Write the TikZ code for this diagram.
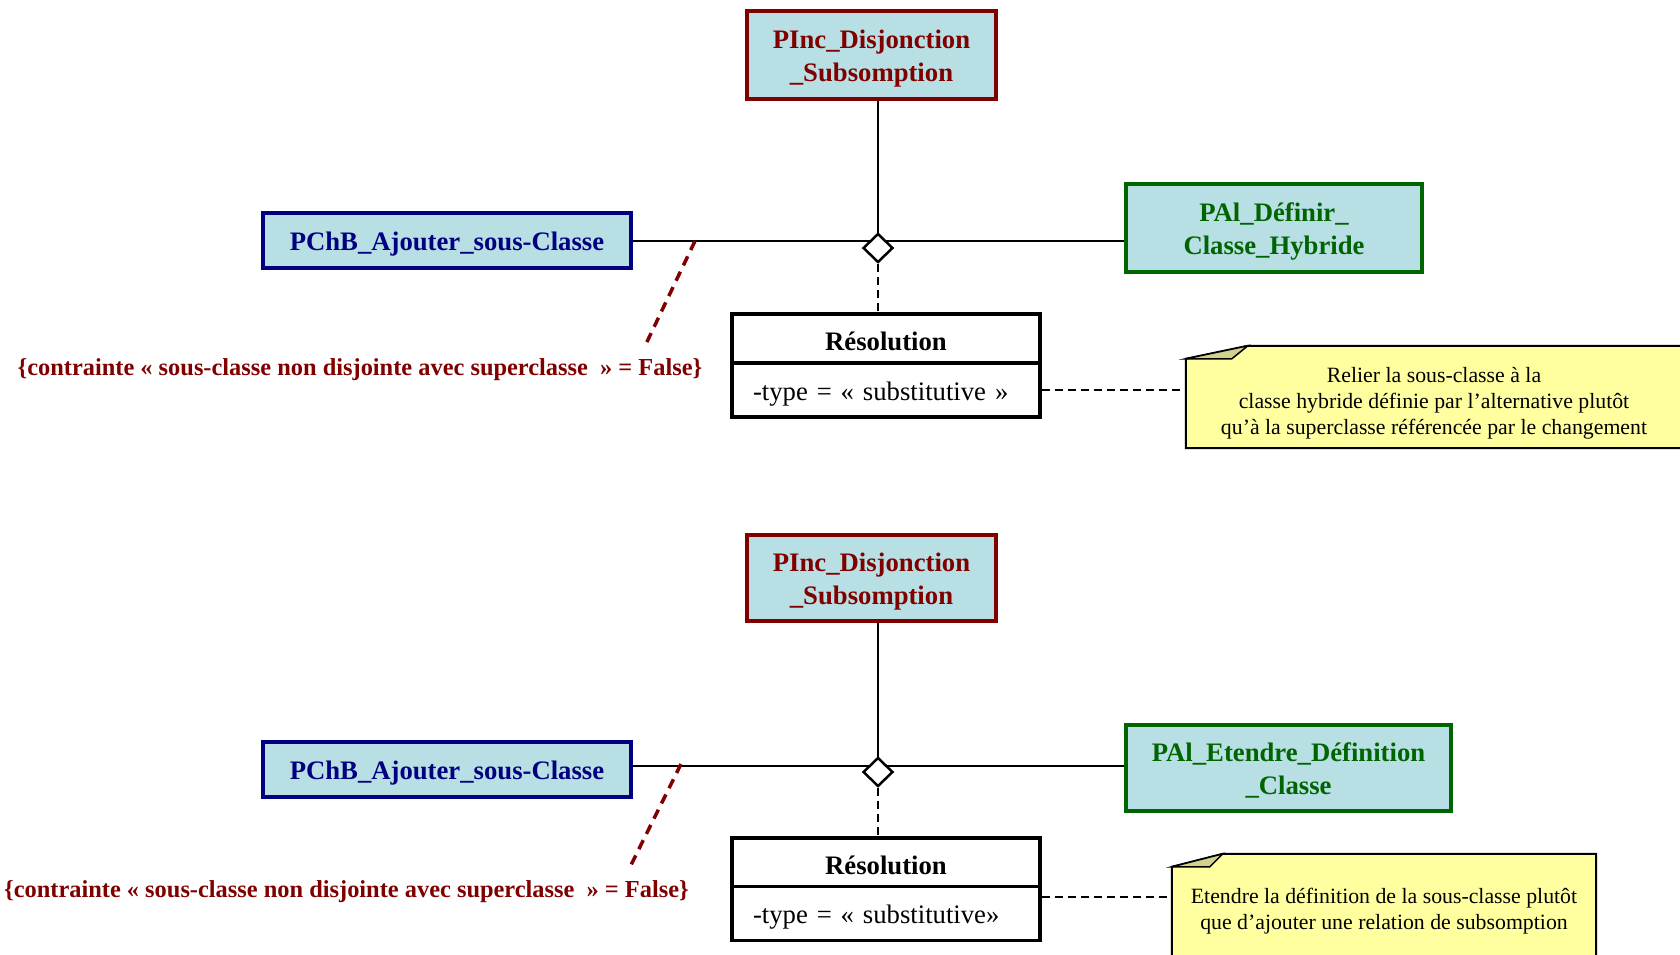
\documentclass[tikz,border=0pt]{standalone}
\usepackage{fontspec}
\setmainfont{Liberation Serif}
\usetikzlibrary{calc, positioning, shapes.geometric, backgrounds}
\definecolor{cRouge}{HTML}{800000}
\definecolor{cBleu}{HTML}{000080}
\definecolor{cVert}{HTML}{006400}
\definecolor{cCyanPale}{HTML}{B8E0E4}
\definecolor{cNote}{HTML}{FFFFA0}
\definecolor{cPli}{HTML}{D2D28C}

\begin{document}
\begin{tikzpicture}[
    x=1pt, y=-1pt,
    % ---------------------------------------------------------
    % STYLES DE BASE
    % ---------------------------------------------------------
    classe/.style={
        rectangle,
        draw=#1,
        fill=cCyanPale,
        text=#1,
        line width=3.5pt,
        font=\bfseries\fontsize{26.7}{33}\selectfont,
        align=center,
        inner sep=0pt,
        execute at begin node={\rule{0pt}{25pt}}
    },
    deux lignes/.style={text height=54pt, text depth=2pt},
    losange/.style={
        diamond,
        draw=black,
        fill=white,
        line width=2.5pt,
        minimum width=30pt,
        minimum height=29pt,
        inner sep=0pt
    },
    entete/.style={
        rectangle,
        draw=black,
        fill=white,
        line width=3.5pt,
        minimum width=308pt,
        minimum height=49pt,
        inner sep=0pt,
        font=\bfseries\fontsize{26.7}{32}\selectfont,
        execute at begin node={\rule{0pt}{25pt}}
    },
    attribut/.style={
        rectangle,
        draw=black,
        fill=white,
        line width=3.5pt,
        text width=266pt,
        inner xsep=21pt,
        inner ysep=0pt,
        minimum height=54pt,
        align=left,
        font=\fontsize{26.7}{32}\selectfont,
        execute at begin node={\rule{0pt}{26pt}}
    },
    contrainte/.style={
        text=cRouge,
        font=\bfseries\fontsize{24.4}{29}\selectfont,
        inner sep=0pt
    },
    postit/.style={
        rectangle,
        inner sep=0pt,
        align=center,
        font=\fontsize{21.8}{26}\selectfont
    },
    fond note/.style={fill=cNote, draw=black, line width=2pt, line join=miter},
    pli note/.style={fill=cPli, draw=black, line width=1.5pt},
    lien/.style={draw=black, line width=1.8pt},
    lien pointille/.style={draw=black, line width=2pt, dash pattern=on 8pt off 5pt},
    lien contrainte/.style={draw=cRouge, line width=3.5pt, dash pattern=on 10pt off 7pt}
]
\useasboundingbox (0,0) rectangle (1680,954);

% ---------------------------------------------------------
% 1. CLASSES (diagramme du haut)
% ---------------------------------------------------------
\node[classe=cRouge, deux lignes, minimum width=249pt, minimum height=88pt] (pA) at (871.5,55) {PInc\_Disjonction\\\_Subsomption};
\node[classe=cBleu, minimum width=368pt, minimum height=55pt] (bA) at (447,240.5) {PChB\_Ajouter\_sous-Classe};
\node[classe=cVert, deux lignes, minimum width=296pt, minimum height=88pt] (gA) at (1274,228) {PAl\_Définir\_\\Classe\_Hybride};

% CLASSES (diagramme du bas)
\node[classe=cRouge, deux lignes, minimum width=249pt, minimum height=86pt] (pB) at (871.5,578) {PInc\_Disjonction\\\_Subsomption};
\node[classe=cBleu, minimum width=368pt, minimum height=55pt] (bB) at (447,769.5) {PChB\_Ajouter\_sous-Classe};
\node[classe=cVert, deux lignes, minimum width=325pt, minimum height=86pt] (gB) at (1288.5,768) {PAl\_Etendre\_Définition\\\_Classe};

% ---------------------------------------------------------
% 2. ASSOCIATIONS N-AIRES
% ---------------------------------------------------------
\coordinate (jA) at (878,241);
\coordinate (jB) at (878,766);

\draw[lien] (jA -| bA.east) -- (jA -| gA.west);
\draw[lien] (jA |- pA.south) -- (jA);
\draw[lien] (jB -| bB.east) -- (jB -| gB.west);
\draw[lien] (jB |- pB.south) -- (jB);

\node[losange] (dA) at (878,248) {};
\node[losange] (dB) at (878,772) {};

% ---------------------------------------------------------
% 3. CLASSES D'ASSOCIATION
% ---------------------------------------------------------
\node[entete] (rA) at (886,338.5) {Résolution};
\node[attribut] (rAb) at (886,390) {-type = « substitutive »};
\node[entete] (rB) at (886,862.5) {Résolution};
\node[attribut] (rBb) at (886,913.5) {-type = « substitutive»};

\draw[lien pointille] (dA.south) -- (dA.south |- rA.north);
\draw[lien pointille] (dB.south) -- (dB.south |- rB.north);

% ---------------------------------------------------------
% 4. NOTES
% ---------------------------------------------------------
\node[postit, minimum width=496pt, minimum height=89pt] (nA) at (1434,403.5) {Relier la sous-classe à la\\classe hybride définie par l’alternative plutôt\\qu’à la superclasse référencée par le changement};
\node[postit, minimum width=424pt, minimum height=89pt] (nB) at (1384,911.5) {Etendre la définition de la sous-classe plutôt\\que d’ajouter une relation de subsomption};

\begin{scope}[on background layer]
\filldraw[fond note] (nA.south west) -- (nA.north west) -- ([shift={(62,-13)}]nA.north west) -- ([yshift=13pt]nA.north east) -- (nA.south east) -- cycle;
\filldraw[pli note] (nA.north west) -- ([shift={(62,-13)}]nA.north west) -- ([xshift=46pt]nA.north west) -- cycle;
\filldraw[fond note] (nB.south west) -- (nB.north west) -- ([shift={(51,-13)}]nB.north west) -- ([yshift=13pt]nB.north east) -- (nB.south east) -- cycle;
\filldraw[pli note] (nB.north west) -- ([shift={(51,-13)}]nB.north west) -- ([xshift=38pt]nB.north west) -- cycle;
\end{scope}

\draw[lien pointille] (rAb.east) -- (rAb.east -| nA.west);
\draw[lien pointille] ($(rBb.north east)!0.21!(rBb.south east)$) coordinate (eB) -- (eB -| nB.west);

% ---------------------------------------------------------
% 5. CONTRAINTES
% ---------------------------------------------------------
\node[contrainte] (cA) at (360,370) {\{contrainte « sous-classe non disjointe avec superclasse\ \ » = False\}};
\node[contrainte] (cB) at (346.5,892) {\{contrainte « sous-classe non disjointe avec superclasse\ \ » = False\}};

\coordinate (kA1) at (695,241);
\coordinate (kA2) at (645,346);
\coordinate (kB1) at (681,764);
\coordinate (kB2) at (630,867);
\draw[lien contrainte] (kA1) -- (kA2);
\draw[lien contrainte] (kB1) -- (kB2);

\end{tikzpicture}
\end{document}
